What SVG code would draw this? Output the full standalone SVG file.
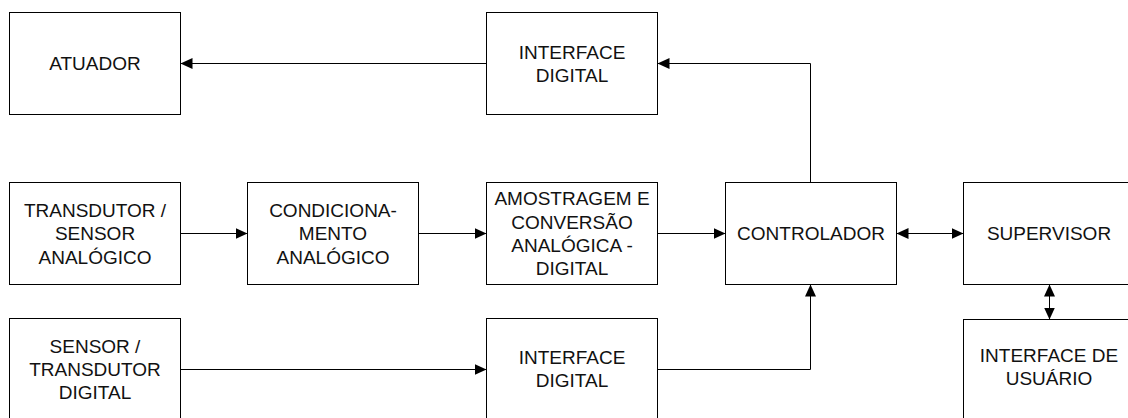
<svg xmlns="http://www.w3.org/2000/svg" width="1128" height="418" viewBox="0 0 1128 418">
  <style>
    .box { fill: #ffffff; stroke: #000000; stroke-width: 1; }
    .lbl { font-family: "Liberation Sans", Arial, sans-serif; font-size: 19px; fill: #111111; text-anchor: middle; }
    .wire { fill: none; stroke: #000000; stroke-width: 1; }
  </style>
  <defs>
    <marker id="arrow" markerUnits="userSpaceOnUse" markerWidth="13" markerHeight="12" refX="12" refY="5.5" orient="auto-start-reverse">
      <path d="M0,0 L12,5.5 L0,11 z" fill="#000000"/>
    </marker>
  </defs>
  <rect x="0" y="0" width="1128" height="418" fill="#ffffff"/>

  <!-- connectors -->
  <g id="connectors">
    <line class="wire" x1="486.5" y1="63.5" x2="180.5" y2="63.5" marker-end="url(#arrow)"/>
    <polyline class="wire" points="810.5,182.5 810.5,63.5 657.5,63.5" marker-end="url(#arrow)"/>
    <line class="wire" x1="180.5" y1="233.5" x2="247.5" y2="233.5" marker-end="url(#arrow)"/>
    <line class="wire" x1="418.5" y1="233.5" x2="486.5" y2="233.5" marker-end="url(#arrow)"/>
    <line class="wire" x1="657.5" y1="233.5" x2="725.5" y2="233.5" marker-end="url(#arrow)"/>
    <line class="wire" x1="896.5" y1="233.5" x2="963.5" y2="233.5" marker-start="url(#arrow)" marker-end="url(#arrow)"/>
    <line class="wire" x1="180.5" y1="369.5" x2="486.5" y2="369.5" marker-end="url(#arrow)"/>
    <polyline class="wire" points="657.5,369.5 810.5,369.5 810.5,284.5" marker-end="url(#arrow)"/>
    <line class="wire" x1="1049.5" y1="284.5" x2="1049.5" y2="319.5" marker-start="url(#arrow)" marker-end="url(#arrow)"/>
  </g>

  <g id="atuador">
    <rect class="box" x="9.5" y="12.5" width="171" height="102"/>
    <text class="lbl" x="95" y="70">ATUADOR</text>
  </g>
  <g id="interface-digital-saida">
    <rect class="box" x="486.5" y="12.5" width="171" height="102"/>
    <text class="lbl" x="572" y="58.5">INTERFACE</text>
    <text class="lbl" x="572" y="81.5">DIGITAL</text>
  </g>
  <g id="transdutor-analogico">
    <rect class="box" x="9.5" y="182.5" width="171" height="102"/>
    <text class="lbl" x="95" y="216.5">TRANSDUTOR /</text>
    <text class="lbl" x="95" y="240">SENSOR</text>
    <text class="lbl" x="95" y="263.5">ANALÓGICO</text>
  </g>
  <g id="condicionamento">
    <rect class="box" x="247.5" y="182.5" width="171" height="102"/>
    <text class="lbl" x="333" y="216.5">CONDICIONA-</text>
    <text class="lbl" x="333" y="240">MENTO</text>
    <text class="lbl" x="333" y="263.5">ANALÓGICO</text>
  </g>
  <g id="amostragem">
    <rect class="box" x="486.5" y="182.5" width="171" height="102"/>
    <text class="lbl" x="572" y="205">AMOSTRAGEM E</text>
    <text class="lbl" x="572" y="228.5">CONVERSÃO</text>
    <text class="lbl" x="572" y="252">ANALÓGICA -</text>
    <text class="lbl" x="572" y="275">DIGITAL</text>
  </g>
  <g id="controlador">
    <rect class="box" x="725.5" y="182.5" width="171" height="102"/>
    <text class="lbl" x="811" y="240">CONTROLADOR</text>
  </g>
  <g id="supervisor">
    <rect class="box" x="963.5" y="182.5" width="171" height="102"/>
    <text class="lbl" x="1049" y="240">SUPERVISOR</text>
  </g>
  <g id="sensor-digital">
    <rect class="box" x="9.5" y="318.5" width="171" height="102"/>
    <text class="lbl" x="95" y="352.5">SENSOR /</text>
    <text class="lbl" x="95" y="375.5">TRANSDUTOR</text>
    <text class="lbl" x="95" y="398.5">DIGITAL</text>
  </g>
  <g id="interface-digital-entrada">
    <rect class="box" x="486.5" y="318.5" width="171" height="102"/>
    <text class="lbl" x="572" y="364">INTERFACE</text>
    <text class="lbl" x="572" y="387">DIGITAL</text>
  </g>
  <g id="interface-usuario">
    <rect class="box" x="963.5" y="319.5" width="171" height="102"/>
    <text class="lbl" x="1049" y="361.5">INTERFACE DE</text>
    <text class="lbl" x="1049" y="384.5">USUÁRIO</text>
  </g>
</svg>
